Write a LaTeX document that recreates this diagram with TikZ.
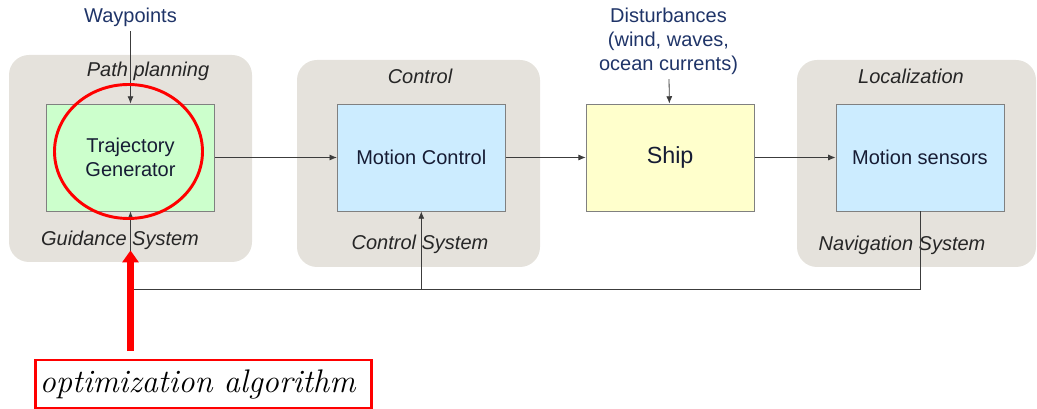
\documentclass[tikz,border=0pt]{standalone}
\usepackage{fontspec}
\setsansfont{Liberation Sans}
\usetikzlibrary{arrows.meta,positioning,fit,calc,backgrounds}
\definecolor{gncgreen}{RGB}{204,255,204}
\definecolor{gncblue}{RGB}{204,236,255}
\definecolor{gncyellow}{RGB}{255,255,204}
\definecolor{gncgray}{RGB}{229,226,220}
\definecolor{gncnavy}{RGB}{31,52,104}
\definecolor{gncink}{RGB}{22,28,52}
\definecolor{gncline}{RGB}{60,60,60}

\begin{document}
\begin{tikzpicture}[x=0.75pt, y=-0.75pt, >={Latex[length=5.5pt,width=4.5pt]},
  every node/.style={font=\sffamily\fontsize{15}{18}\selectfont},
  blk/.style={draw=gray, line width=0.6pt, minimum width=126pt, minimum height=80.25pt, text=gncink, align=center},
  grp/.style={fill=gncgray, rounded corners=15pt, inner sep=0pt},
  grplbl/.style={font=\sffamily\itshape\fontsize{15}{18}\selectfont, text=black!85},
  extlbl/.style={text=gncnavy, align=center},
  wire/.style={draw=gncline, line width=0.6pt},
  hilite/.style={draw=red, line width=2.2pt},
  optbox/.style={draw=red, line width=2.2pt, minimum height=36pt, text width=246pt, inner xsep=3pt, align=left, font=\rmfamily\itshape\fontsize{24.5}{28}\selectfont, text=black},
  optarrow/.style={draw=red, line width=5pt, -{Triangle[length=9pt,width=12pt]}}]
\useasboundingbox (0,0) rectangle (1037,409);

% main blocks
\node[blk, fill=gncgreen] (traj) at (130.5,157.5) {Trajectory\\Generator};
\node[blk, fill=gncblue, right=91.5pt of traj] (motion) {Motion Control};
\node[blk, fill=gncyellow, right=60pt of motion, font=\sffamily\fontsize{17.5}{21}\selectfont] (ship) {Ship};
\node[blk, fill=gncblue, right=60.75pt of ship] (sens) {Motion sensors};

% system groups
\begin{scope}[on background layer]
\node[grp, fit={(9,55) (252,262)}] (guidgrp) {};
\node[grp, fit={(297,60) (540,267)}] (ctrlgrp) {};
\node[grp, fit={(797,60) (1036,267)}] (navgrp) {};
\end{scope}
\node[grplbl] (pathlbl) at (148,71) {Path planning};
\node[grplbl] (guidlbl) at (120,240) {Guidance System};
\node[grplbl] (ctrllbl) at (420,76) {Control};
\node[grplbl] (ctrlsyslbl) at (420,244) {Control System};
\node[grplbl] (loclbl) at (911,76) {Localization};
\node[grplbl] (navlbl) at (902,245) {Navigation System};

% inputs
\node[extlbl] (way) at (130.5,17) {Waypoints};
\node[extlbl] (dist) at (668.5,41) {Disturbances\\(wind, waves,\\ocean currents)};
\draw[->, wire] (way) -- (traj);
\draw[->, wire] (dist) -- (ship);

% signal path
\draw[->, wire] (traj) -- (motion);
\draw[->, wire] (motion) -- (ship);
\draw[->, wire] (ship) -- (sens);

% feedback
\path (sens.south) ++(0,78) coordinate (fb);
\draw[->, wire] (sens.south) -- (fb) -| (traj.south);
\draw[->, wire] (motion.south |- fb) -- (motion.south);

% highlight
\draw[hilite] ($(traj.center)+(-2,-6)$) ellipse [x radius=55.5pt, y radius=50.25pt];
\node[optbox] (opt) at (203.5,384) {optimization algorithm};
\draw[optarrow] ($(opt.north -| traj.south)+(0,-8)$) -- ($(traj.south)+(0,39)$);
\end{tikzpicture}
\end{document}
